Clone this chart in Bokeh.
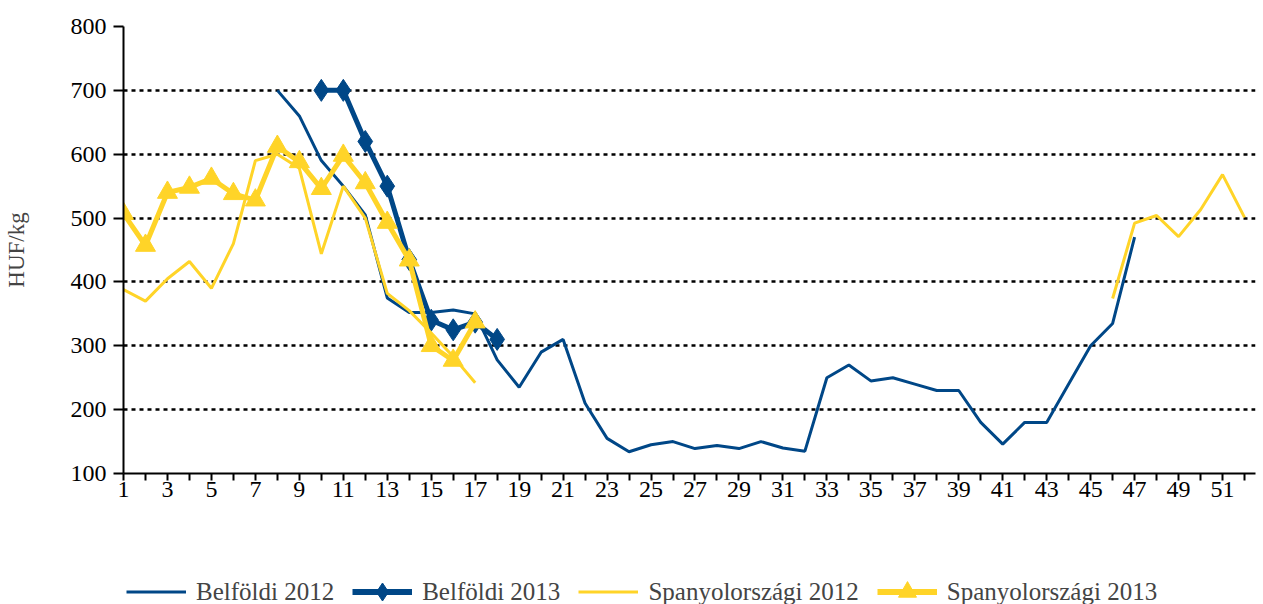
from bokeh.plotting import figure
from bokeh.layouts import column
from bokeh.models import FixedTicker, Legend, LegendItem, Range1d
from bokeh.embed import file_html
from bokeh.resources import INLINE

# ---- data ----
bel12_weeks = list(range(8, 48))
bel12_vals = [700, 660, 590, 550, 505, 375, 352, 352, 356, 350, 278, 235, 290, 310, 210,
              155, 134, 145, 150, 139, 144, 139, 150, 140, 135, 250, 270, 245, 250, 240,
              230, 230, 180, 146, 180, 180, 240, 300, 335, 470]

bel13_weeks = list(range(10, 19))
bel13_vals = [700, 700, 620, 550, 435, 340, 325, 337, 310]

spa12a_weeks = list(range(1, 18))
spa12a_vals = [388, 370, 405, 432, 390, 460, 590, 600, 578, 444, 550, 500, 382, 355, 320, 283, 242]
spa12b_weeks = list(range(46, 53))
spa12b_vals = [374, 492, 504, 471, 513, 568, 501]

spa13_weeks = list(range(1, 18))
spa13_vals = [507, 457, 540, 548, 562, 538, 528, 612, 588, 546, 598, 555, 493, 434, 300, 277, 337]

x_ticks = list(range(1, 53))
y_ticks = [100, 200, 300, 400, 500, 600, 700, 800]
labels = ["Belföldi 2012", "Belföldi 2013", "Spanyolországi 2012", "Spanyolországi 2013"]

BLUE = "#004787"
YELLOW = "#FFD428"
FONT = "Liberation Serif"
W = 1258

p = figure(width=W, height=510, output_backend="svg", toolbar_location=None,
           x_range=(1, 52.5), y_range=(100, 800),
           min_border_left=122, min_border_top=26, min_border_right=3, min_border_bottom=37)
p.outline_line_color = None
p.background_fill_color = "white"
p.border_fill_color = "white"

# grids
p.xgrid.grid_line_color = None
p.ygrid.grid_line_color = "black"
p.ygrid.grid_line_dash = "4 4"
p.ygrid.grid_line_width = 2.5
p.ygrid.ticker = FixedTicker(ticks=y_ticks)

# axes
p.xaxis.ticker = FixedTicker(ticks=x_ticks)
p.xaxis.major_label_overrides = {w: (str(w) if w % 2 == 1 else "") for w in x_ticks}
p.yaxis.ticker = FixedTicker(ticks=y_ticks)
for ax in (p.xaxis[0], p.yaxis[0]):
    ax.axis_line_color = "black"
    ax.axis_line_width = 2
    ax.major_tick_line_color = "black"
    ax.major_tick_line_width = 2
    ax.minor_tick_line_color = None
    ax.major_tick_in = 0
    ax.major_label_text_font = FONT
    ax.major_label_text_font_size = "24px"
    ax.major_label_text_color = "black"
p.xaxis.major_tick_out = 7
p.xaxis.major_label_standoff = 1
p.yaxis.major_tick_out = 10
p.yaxis.major_label_standoff = 7
p.yaxis.axis_label = "HUF/kg"
p.yaxis.axis_label_text_font = FONT
p.yaxis.axis_label_text_font_size = "23px"
p.yaxis.axis_label_text_font_style = "normal"
p.yaxis.axis_label_standoff = 39

# series
p.line(bel12_weeks, bel12_vals, line_color=BLUE, line_width=3)
p.line(bel13_weeks, bel13_vals, line_color=BLUE, line_width=5)
p.scatter(bel13_weeks, bel13_vals, marker="diamond", size=22, fill_color=BLUE, line_color=BLUE)
p.line(spa12a_weeks, spa12a_vals, line_color=YELLOW, line_width=3)
p.line(spa12b_weeks, spa12b_vals, line_color=YELLOW, line_width=3)
p.line(spa13_weeks, spa13_vals, line_color=YELLOW, line_width=5)
p.scatter(spa13_weeks, spa13_vals, marker="triangle", size=20, fill_color=YELLOW, line_color=YELLOW)

# ---- legend strip (separate figure below the chart; series fall outside its view) ----
lg = figure(width=W, height=94, output_backend="svg", toolbar_location=None,
            x_range=Range1d(-10, -9), y_range=Range1d(-10, -9),
            min_border_left=0, min_border_right=0, min_border_top=0, min_border_bottom=0)
lg.axis.visible = False
lg.grid.visible = False
lg.outline_line_color = None
lg.background_fill_color = "white"
lg.border_fill_color = "white"
e1 = lg.line(bel12_weeks, bel12_vals, line_color=BLUE, line_width=3)
e2 = lg.line(bel13_weeks, bel13_vals, line_color=BLUE, line_width=6)
e2m = lg.scatter(bel13_weeks, bel13_vals, marker="diamond", size=20, fill_color=BLUE, line_color=BLUE)
e3 = lg.line(spa12a_weeks, spa12a_vals, line_color=YELLOW, line_width=3)
e4 = lg.line(spa13_weeks, spa13_vals, line_color=YELLOW, line_width=6)
e4m = lg.scatter(spa13_weeks, spa13_vals, marker="triangle", size=20, fill_color=YELLOW, line_color=YELLOW)

legend = Legend(items=[
    LegendItem(label=labels[0], renderers=[e1]),
    LegendItem(label=labels[1], renderers=[e2, e2m]),
    LegendItem(label=labels[2], renderers=[e3]),
    LegendItem(label=labels[3], renderers=[e4, e4m]),
], orientation="horizontal", location=(3, -10))
legend.label_text_font = FONT
legend.label_text_font_size = "25px"
legend.label_height = 25
legend.glyph_width = 60
legend.glyph_height = 45
legend.label_standoff = 10
legend.spacing = 18
legend.padding = 0
legend.margin = 0
legend.border_line_color = None
legend.background_fill_alpha = 0
lg.add_layout(legend, "center")

layout = column(p, lg, spacing=0)
open("out.html", "w").write(file_html(layout, INLINE))
